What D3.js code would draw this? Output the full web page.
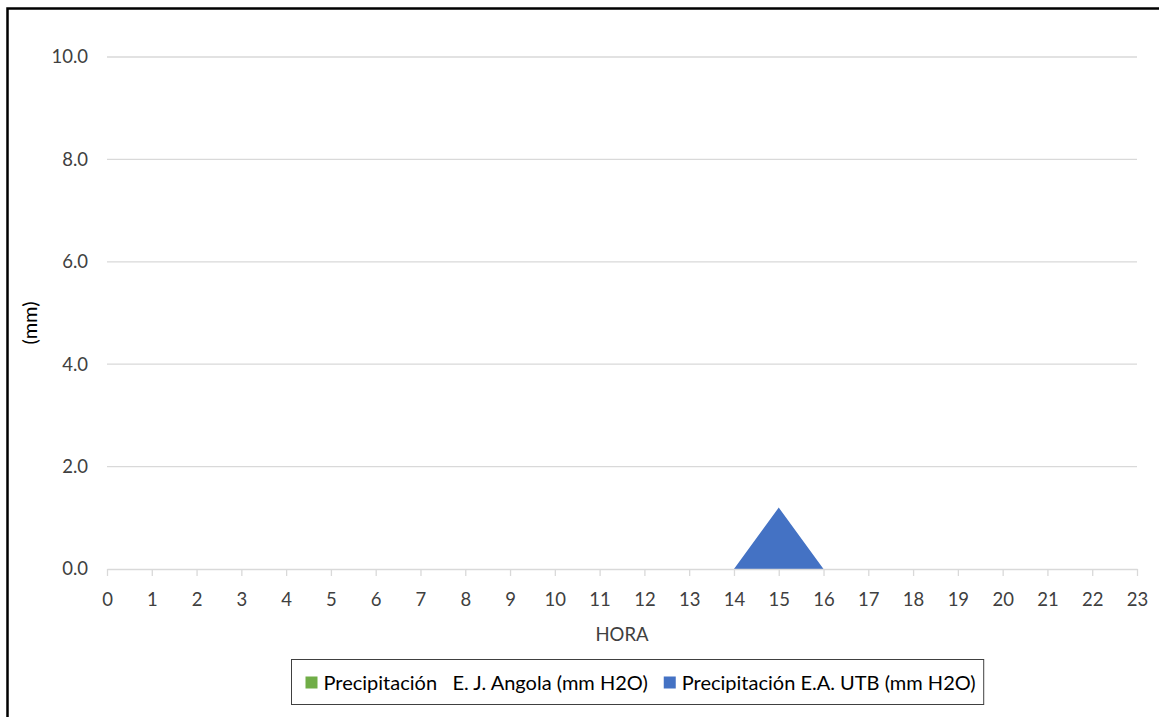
<!DOCTYPE html>
<html lang="es">
  <head>
    <meta charset="utf-8">
    <title>Precipitación por hora</title>
    <script src="https://d3js.org/d3.v7.min.js"></script>
    <style>
      body { margin: 0; background: #fff; }
      text { font-family: Lato, "Open Sans", sans-serif; fill: #404040; }
      .grid line { stroke: #d9d9d9; stroke-width: 1.3; }
      .xaxis path, .xaxis line { stroke: #d9d9d9; stroke-width: 1.3; }
    </style>
  </head>
  <body>
    <script>
    // data
    var horas = d3.range(0, 24);
    var angola = [0,0,0,0,0,0,0,0,0,0,0,0,0,0,0,0,0,0,0,0,0,0,0,0];
    var utb    = [0,0,0,0,0,0,0,0,0,0,0,0,0,0,0,1.2,0,0,0,0,0,0,0,0];
    var yTicks = [0, 2, 4, 6, 8, 10];
    var seriesNames = ["Precipitación   E. J. Angola (mm H2O)", "Precipitación E.A. UTB (mm H2O)"];
    var colors = ["#70ad47", "#4472c4"];

    var W = 1159, H = 717;
    var margin = {top: 57, right: 22, bottom: 148, left: 107};
    var w = W - margin.left - margin.right;
    var h = H - margin.top - margin.bottom;

    var svg = d3.select("body").append("svg")
                .attr("width", W)
                .attr("height", H);

    // outer frame (runs off the right and bottom edge)
    svg.append("rect")
       .attr("x", 7.5).attr("y", 8.5)
       .attr("width", W + 20).attr("height", H + 20)
       .attr("fill", "none")
       .attr("stroke", "#000")
       .attr("stroke-width", 2.5);

    var g = svg.append("g")
               .attr("transform", "translate(" + margin.left + "," + margin.top + ")");

    var x = d3.scaleLinear().domain([0, 23]).range([0, w]);
    var y = d3.scaleLinear().domain([0, 10]).range([h, 0]);

    // gridlines
    g.append("g").attr("class", "grid")
     .selectAll("line")
     .data(yTicks.filter(function(d){ return d > 0; }))
     .enter().append("line")
     .attr("x1", 0).attr("x2", w)
     .attr("y1", function(d){ return y(d); })
     .attr("y2", function(d){ return y(d); });

    // y labels
    g.append("g").selectAll("text")
     .data(yTicks)
     .enter().append("text")
     .attr("x", -19)
     .attr("y", function(d){ return y(d); })
     .attr("dy", "0.35em")
     .attr("text-anchor", "end")
     .style("font-size", "18.5px")
     .text(function(d){ return d3.format(".1f")(d); });

    // areas
    var area = d3.area()
                 .x(function(d, i){ return x(horas[i]); })
                 .y0(y(0))
                 .y1(function(d){ return y(d); });

    [angola, utb].forEach(function(s, i) {
      g.append("path")
       .datum(s)
       .attr("fill", colors[i])
       .attr("d", area);
    });

    // x axis
    var xAxis = g.append("g")
                 .attr("class", "xaxis")
                 .attr("transform", "translate(0," + h + ")")
                 .call(d3.axisBottom(x).tickValues(horas).tickSize(7).tickSizeOuter(0).tickPadding(17));
    xAxis.selectAll("text").style("font-size", "18.5px").attr("fill", "#404040");

    // axis titles
    svg.append("text")
       .attr("x", margin.left + w / 2)
       .attr("y", 635)
       .attr("dy", "0.35em")
       .attr("text-anchor", "middle")
       .style("font-size", "18.5px")
       .text("HORA");

    svg.append("text")
       .attr("transform", "translate(30,323) rotate(-90)")
       .attr("text-anchor", "middle")
       .attr("dy", "0.35em")
       .style("font-size", "20px")
       .style("fill", "#000")
       .text("(mm)");

    // legend
    var leg = svg.append("g").attr("transform", "translate(291.5,659.5)");
    var box = leg.append("rect")
       .attr("height", 45)
       .attr("fill", "#fff").attr("stroke", "#404040").attr("stroke-width", 1);

    var lx = 14;
    seriesNames.forEach(function(name, i) {
      leg.append("rect")
         .attr("x", lx).attr("y", 17)
         .attr("width", 12).attr("height", 12)
         .attr("fill", colors[i]);
      var t = leg.append("text")
         .attr("x", lx + 18).attr("y", 23)
         .attr("dy", "0.35em")
         .attr("xml:space", "preserve")
         .style("white-space", "pre")
         .style("font-size", "20px")
         .style("fill", "#000")
         .text(name);
      lx += 18 + t.node().getComputedTextLength() + 16;
    });
    box.attr("width", lx - 8);
    </script>
  </body>
</html>
